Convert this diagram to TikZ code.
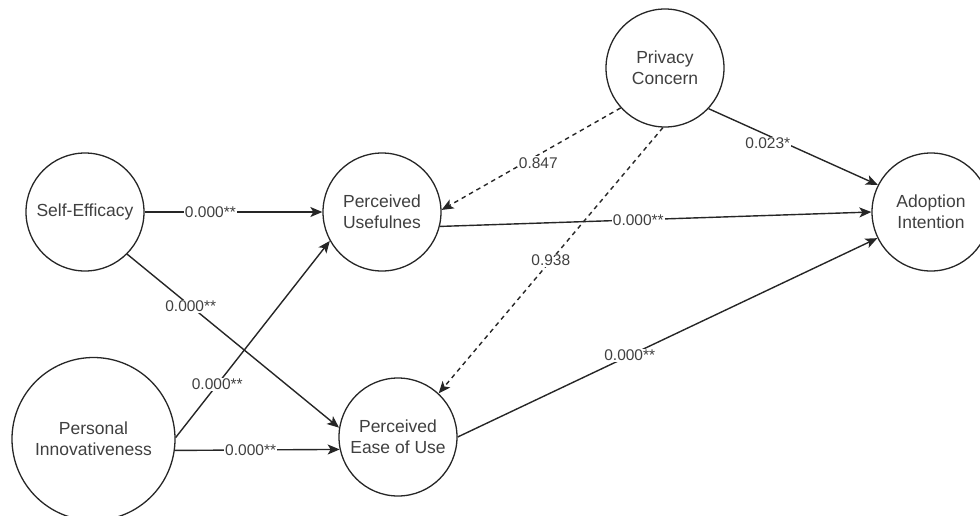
\documentclass[tikz,border=0pt]{standalone}
\usepackage{fontspec}
\setmainfont{Liberation Sans}
\usetikzlibrary{arrows.meta}
\definecolor{inkline}{HTML}{262626}
\definecolor{inktext}{HTML}{404040}
\begin{document}
\begin{tikzpicture}[x=1pt,y=-1pt,
  construct/.style={circle, draw=inkline, line width=1.3pt, fill=white,
    text=inktext, align=center, minimum size=118pt, inner sep=0pt,
    font=\fontsize{17.5}{21}\selectfont},
  link/.style={draw=inkline, line width=1.4pt,
    -{Stealth[length=12pt,width=10pt,inset=3pt]}},
  weak/.style={link, dash pattern=on 4.5pt off 4pt},
  coef/.style={fill=white, text=inktext, inner sep=1pt,
    font=\fontsize{15.5}{18}\selectfont}]
\useasboundingbox (0,0) rectangle (980,515);
\clip (0,0) rectangle (980,515);

% constructs
\node[construct] (se)   at (85,212)  {Self-Efficacy};
\node[construct] (pu)   at (382,212) {Perceived\\Usefulnes};
\node[construct] (pc)   at (665,68)  {Privacy\\Concern};
\node[construct] (ai)   at (931,212) {Adoption\\Intention};
\node[construct, minimum size=163pt] (pi) at (93.5,439) {Personal\\Innovativeness};
\node[construct] (peou) at (398,437) {Perceived\\Ease of Use};

% significant paths
\draw[link] (se.east) -- node[coef, pos=0.37] {0.000**} (pu.west);
\draw[link] (se.-45) -- node[coef, pos=0.3] {0.000**} (peou.171);
\draw[link] (pi.1) -- node[coef, pos=0.27] {0.000**} (pu.209);
\draw[link] (pi.-8) -- node[coef, pos=0.46] {0.000**} (peou.192);
\draw[link] (pu.-14) -- node[coef, pos=0.46] {0.000**} (ai.west);
\draw[link] (peou.east) -- node[coef, pos=0.41] {0.000**} (ai.206);
\draw[link] (pc.-43) -- node[coef, pos=0.35, yshift=-8pt] {0.023*} (ai.153);

% non-significant paths
\draw[weak] (pc.222) -- node[coef, pos=0.46, yshift=-8pt] {0.847} (pu.2);
\draw[weak] (pc.268) -- node[coef, pos=0.5] {0.938} (peou.47);
\end{tikzpicture}
\end{document}
